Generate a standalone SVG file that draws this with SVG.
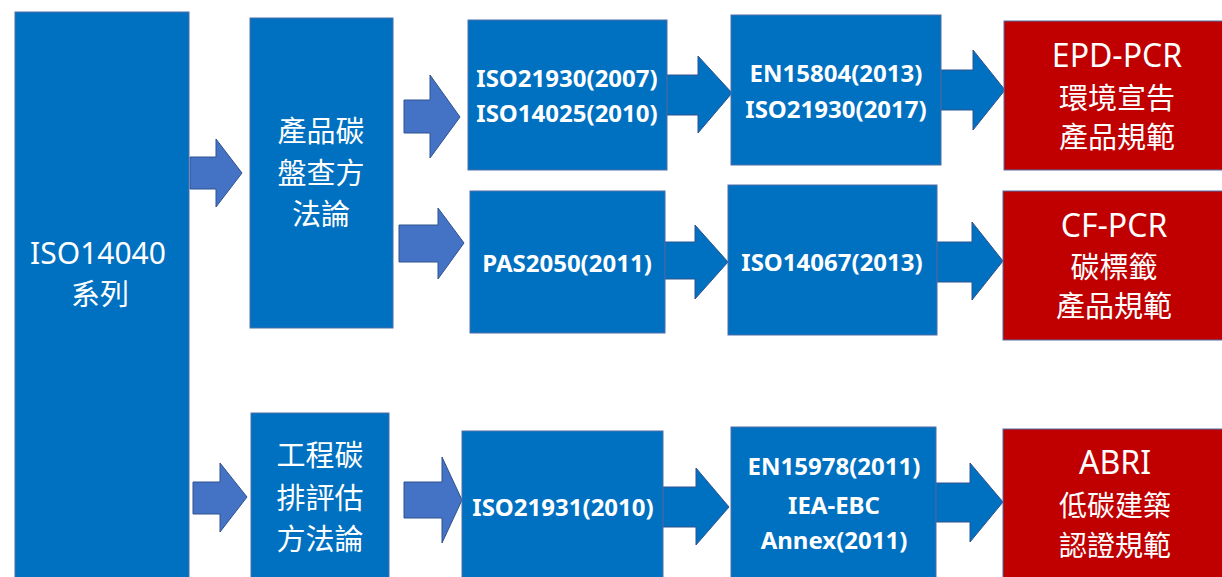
<svg xmlns="http://www.w3.org/2000/svg" width="1222" height="577" viewBox="0 0 1222 577">
<style>
.blue{fill:#0070C0;stroke:#4F6FA8;stroke-width:1}
.red{fill:#C00000;stroke:#4F6FA8;stroke-width:1}
.arL{fill:#4472C4;stroke:#2F528F;stroke-width:1}
.arD{fill:#0070C0;stroke:#2F528F;stroke-width:1}
text{fill:#FFFFFF;text-anchor:middle;font-family:"Noto Sans","Noto Sans CJK TC",sans-serif}
.big{font-size:30px}
.sm{font-size:24px;font-weight:bold}
.cjk{font-size:29px;dominant-baseline:central}
.rl{font-size:32px}
</style>
<rect width="1222" height="577" fill="#FFFFFF"/>
<g id="connectors">
<polygon class="arL" points="190,157 216,157 216,139 242,173 216,207 216,189 190,189"/>
<polygon class="arL" points="404,100 430,100 430,75 460,117 430,158 430,133 404,133"/>
<polygon class="arL" points="399,225 438,225 438,208 464,243 438,279 438,262 399,262"/>
<polygon class="arD" points="667,75 698,75 698,56 732,93 698,133 698,115 667,115"/>
<polygon class="arD" points="665,242 695,242 695,225 728,262 695,299 695,279 665,279"/>
<polygon class="arD" points="941,70 973,70 973,50 1005,90 973,130 973,110 941,110"/>
<polygon class="arD" points="937,242 972,242 972,222 1003,261 972,300 972,282 937,282"/>
<polygon class="arL" points="193,482 220,482 220,463 247,497 220,532 220,514 193,514"/>
<polygon class="arL" points="404,482 442,482 442,457 462,500 442,543 442,518 404,518"/>
<polygon class="arD" points="663,487 696,487 696,468 729,507 696,545 696,527 663,527"/>
<polygon class="arD" points="936,483 970,483 970,463 1003,502 970,542 970,522 936,522"/>
</g>
<g id="iso14040">
<rect class="blue" x="15" y="12" width="174" height="570"/>
<text class="big" x="98" y="264">ISO14040</text>
<text class="cjk" x="100" y="293">系列</text>
</g>
<g id="product">
<rect class="blue" x="250" y="18" width="143" height="310"/>
<text class="cjk" x="321" y="130">產品碳</text>
<text class="cjk" x="321" y="172">盤查方</text>
<text class="cjk" x="321" y="213">法論</text>
</g>
<g id="engineering">
<rect class="blue" x="251" y="413" width="138" height="170"/>
<text class="cjk" x="320" y="454">工程碳</text>
<text class="cjk" x="320" y="497">排評估</text>
<text class="cjk" x="320" y="538">方法論</text>
</g>
<g id="iso21930">
<rect class="blue" x="468" y="20" width="199" height="150"/>
<text class="sm" x="567" y="87">ISO21930(2007)</text>
<text class="sm" x="567" y="122">ISO14025(2010)</text>
</g>
<g id="pas2050">
<rect class="blue" x="470" y="191" width="195" height="142"/>
<text class="sm" x="567" y="272">PAS2050(2011)</text>
</g>
<g id="iso21931">
<rect class="blue" x="462" y="431" width="201" height="150"/>
<text class="sm" x="563" y="516">ISO21931(2010)</text>
</g>
<g id="en15804">
<rect class="blue" x="731" y="15" width="210" height="150"/>
<text class="sm" x="836" y="82">EN15804(2013)</text>
<text class="sm" x="836" y="118">ISO21930(2017)</text>
</g>
<g id="iso14067">
<rect class="blue" x="728" y="185" width="209" height="150"/>
<text class="sm" x="832" y="271">ISO14067(2013)</text>
</g>
<g id="en15978">
<rect class="blue" x="731" y="427" width="205" height="155"/>
<text class="sm" x="834" y="475">EN15978(2011)</text>
<text class="sm" x="834" y="514">IEA-EBC</text>
<text class="sm" x="834" y="549">Annex(2011)</text>
</g>
<g id="epd">
<rect class="red" x="1004" y="21" width="226" height="149"/>
<text class="rl" x="1117" y="67">EPD-PCR</text>
<text class="cjk" x="1117" y="97">環境宣告</text>
<text class="cjk" x="1117" y="136">產品規範</text>
</g>
<g id="cf">
<rect class="red" x="1003" y="191" width="227" height="149"/>
<text class="rl" x="1114" y="237">CF-PCR</text>
<text class="cjk" x="1114" y="266">碳標籤</text>
<text class="cjk" x="1114" y="305">產品規範</text>
</g>
<g id="abri">
<rect class="red" x="1003" y="429" width="227" height="155"/>
<text class="rl" x="1115" y="474">ABRI</text>
<text class="cjk" x="1115" y="505" style="font-size:28px">低碳建築</text>
<text class="cjk" x="1115" y="545" style="font-size:28px">認證規範</text>
</g>
</svg>
